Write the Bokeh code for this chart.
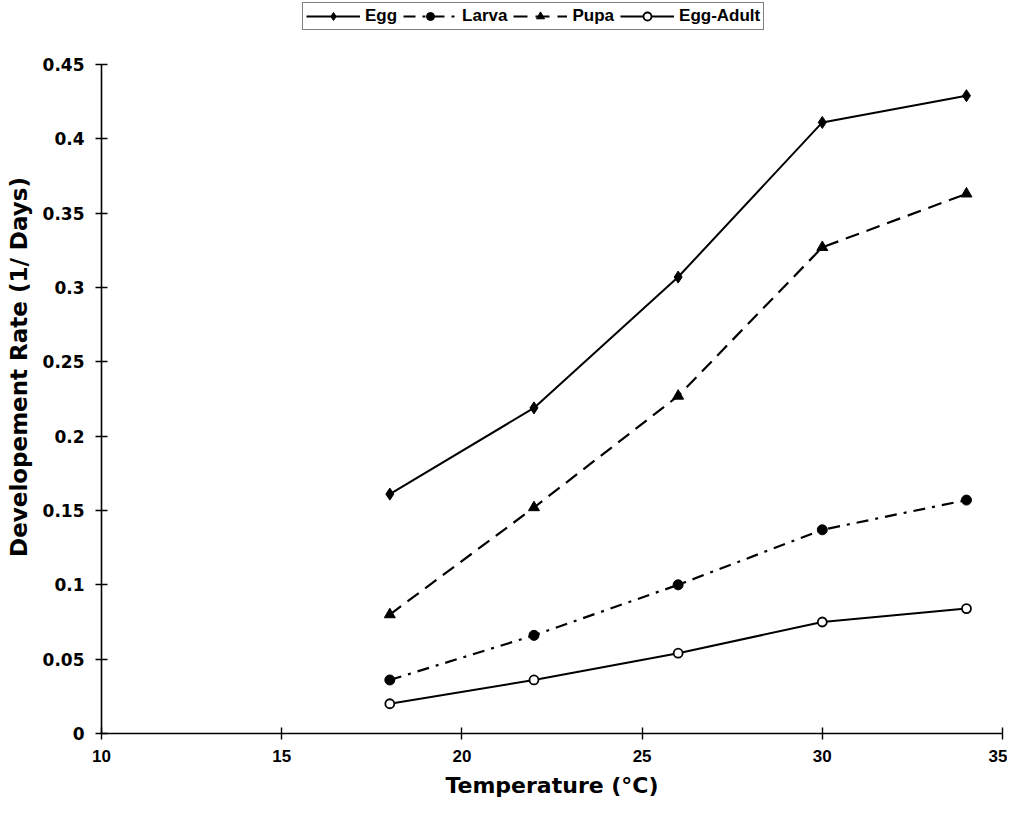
from bokeh.plotting import figure
from bokeh.models import Range1d, FixedTicker, Legend, LegendItem
from bokeh.embed import file_html
from bokeh.resources import INLINE

temperature = [18, 22, 26, 30, 34]
egg = [0.161, 0.219, 0.307, 0.411, 0.429]
larva = [0.036, 0.066, 0.100, 0.137, 0.157]
pupa = [0.080, 0.152, 0.227, 0.327, 0.363]
egg_adult = [0.020, 0.036, 0.054, 0.075, 0.084]

x_ticks = [10, 15, 20, 25, 30, 35]
y_ticks = [0, 0.05, 0.1, 0.15, 0.2, 0.25, 0.3, 0.35, 0.4, 0.45]
y_tick_labels = ["0", "0.05", "0.1", "0.15", "0.2", "0.25", "0.3", "0.35", "0.4", "0.45"]

SANS = "Liberation Sans"
WIDE = "DejaVu Sans"

# frame extends to the top of the canvas so the legend can sit above the y axis end
p = figure(output_backend="svg", toolbar_location=None,
           frame_width=901, frame_height=733,
           min_border_left=101, min_border_right=5, min_border_top=0, min_border_bottom=81,
           x_range=Range1d(10, 35), y_range=Range1d(0, 0.493),
           x_axis_label="Temperature (°C)", y_axis_label="Developement Rate (1/ Days)")
p.outline_line_color = None
p.xgrid.visible = False
p.ygrid.visible = False
p.background_fill_color = "white"
p.border_fill_color = "white"

p.xaxis.ticker = FixedTicker(ticks=x_ticks)
p.yaxis.ticker = FixedTicker(ticks=y_ticks)
p.yaxis.major_label_overrides = {t: l for t, l in zip(y_ticks, y_tick_labels)}
p.yaxis.bounds = (0, 0.45)

for ax in (p.xaxis[0], p.yaxis[0]):
    ax.axis_line_width = 1.6
    ax.axis_line_color = "black"
    ax.major_tick_line_width = 1.4
    ax.major_tick_line_color = "black"
    ax.major_tick_in = 6
    ax.major_tick_out = 6
    ax.minor_tick_line_color = None
    ax.major_label_text_font_style = "bold"
    ax.major_label_text_color = "black"
    ax.axis_label_text_font = WIDE
    ax.axis_label_text_font_style = "bold"
    ax.axis_label_text_color = "black"

p.xaxis.major_label_text_font = SANS
p.xaxis.major_label_text_font_size = "17px"
p.yaxis.major_label_text_font = WIDE
p.yaxis.major_label_text_font_size = "17px"
p.xaxis.major_label_standoff = 10
p.yaxis.major_label_standoff = 11
p.xaxis.axis_label_text_font_size = "22px"
p.yaxis.axis_label_text_font_size = "23px"
p.xaxis.axis_label_standoff = 8
p.yaxis.axis_label_standoff = 8

l1 = p.line(temperature, egg, line_color="black", line_width=2)
m1 = p.scatter(temperature, egg, marker="diamond", size=12, fill_color="black", line_color="black")
l2 = p.line(temperature, larva, line_color="black", line_width=2.2, line_dash="12 7 3 7")
m2 = p.scatter(temperature, larva, marker="circle", size=10, fill_color="black", line_color="black")
l3 = p.line(temperature, pupa, line_color="black", line_width=2.2, line_dash="14 8")
m3 = p.scatter(temperature, pupa, marker="triangle", size=11, fill_color="black", line_color="black")
l4 = p.line(temperature, egg_adult, line_color="black", line_width=2)
m4 = p.scatter(temperature, egg_adult, marker="circle", size=9, fill_color="white", line_color="black", line_width=1.8)

legend = Legend(items=[
    LegendItem(label="Egg", renderers=[l1, m1]),
    LegendItem(label="Larva", renderers=[l2, m2]),
    LegendItem(label="Pupa", renderers=[l3, m3]),
    LegendItem(label="Egg-Adult", renderers=[l4, m4]),
], location=(201, 703), orientation="horizontal")
legend.label_text_font = SANS
legend.label_text_font_style = "bold"
legend.label_text_font_size = "17px"
legend.label_text_color = "black"
legend.label_standoff = 5
legend.glyph_width = 54
legend.glyph_height = 20
legend.label_height = 17
legend.spacing = 6
legend.padding = 3
legend.margin = 0
legend.border_line_color = "black"
legend.border_line_width = 1.6
legend.background_fill_alpha = 1
p.add_layout(legend, "center")

open("out.html", "w").write(file_html(p, INLINE))
